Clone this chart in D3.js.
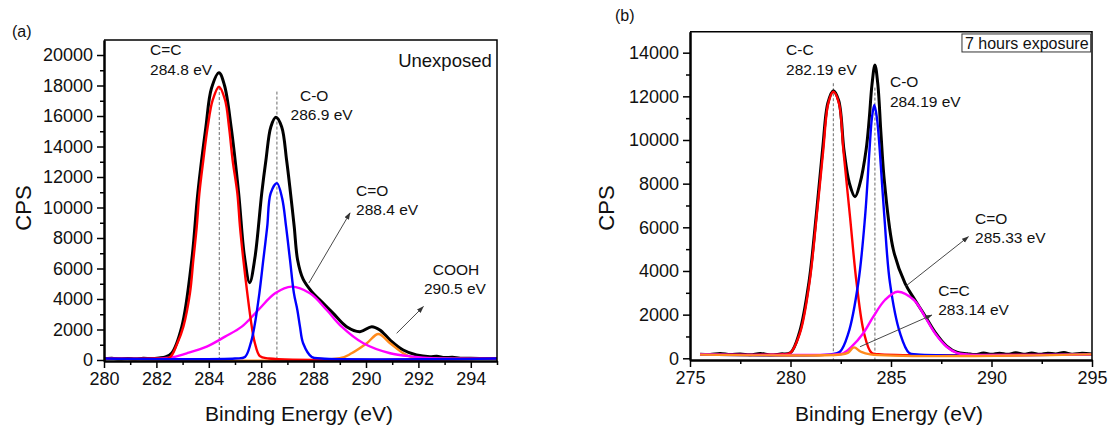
<!DOCTYPE html>
<html>
<head>
<meta charset="utf-8">
<script src="https://cdn.jsdelivr.net/npm/d3@7"></script>
<style>
  body { margin: 0; background: #fff; }
  svg { font-family: "Liberation Sans", Arial, sans-serif; }
</style>
</head>
<body>
<div id="plot"></div>
<script>
// ---- panel (a): unexposed, [binding energy eV, CPS] ----
const unexposedEnvelope = [[280,80],[280.3,110],[280.6,60],[280.9,100],[281.2,70],[281.5,110],[281.8,90],[282.1,130],[282.35,200],[282.58,440],[282.97,2190],[283.35,6560],[283.58,10930],[283.89,15300],[284.1,17800],[284.39,18840],[284.6,18000],[284.85,15300],[285.14,10930],[285.36,6800],[285.56,5070],[285.76,6700],[286.02,10930],[286.18,13100],[286.37,15300],[286.56,15915],[286.78,15300],[286.97,13100],[287.12,10930],[287.26,8740],[287.39,6560],[287.6,5300],[287.93,4480],[288.37,3717],[288.75,3060],[289.26,2185],[289.77,1860],[290.22,2185],[290.53,1970],[290.92,1310],[291.42,655],[291.93,330],[292.44,220],[292.7,250],[293,160],[293.3,180],[293.6,120],[294,110],[294.5,100],[295,90]];
const unexposedCC = [[280,100],[282,100],[282.5,150],[282.8,1100],[283.03,2190],[283.28,4370],[283.41,6560],[283.54,8740],[283.64,10930],[283.79,13100],[283.96,15300],[284.15,17050],[284.39,17920],[284.62,17050],[284.77,15300],[284.91,13100],[285.09,10930],[285.19,8740],[285.32,6560],[285.47,4370],[285.64,2190],[285.76,1100],[285.95,250],[286.3,100],[295,100]];
const unexposedCO = [[280,100],[285,100],[285.38,200],[285.6,1100],[285.74,2190],[285.93,4370],[286.08,6560],[286.23,8740],[286.36,10930],[286.6,11600],[286.8,10600],[286.95,8740],[287.1,6560],[287.25,4370],[287.38,3280],[287.48,2190],[287.6,1100],[287.93,200],[288.3,100],[295,100]];
const unexposedCdO = [[280,100],[282.5,150],[283.16,440],[283.92,875],[284.62,1530],[285.26,2185],[285.89,3280],[286.53,4370],[287.16,4810],[287.86,4370],[288.5,3280],[289.07,2185],[289.9,1095],[290.92,440],[291.8,220],[292.5,120],[295,100]];
const unexposedCOOH = [[280,100],[289,120],[289.45,440],[290.03,1095],[290.47,1705],[290.92,1095],[291.42,440],[291.8,150],[292.3,100],[295,100]];

// ---- panel (b): 7 hours exposure ----
const exposedEnvelope = [[275.5,190],[276,170],[276.5,220],[277,170],[277.5,200],[278,160],[278.5,220],[279,150],[279.5,200],[280,260],[280.45,1200],[280.92,3500],[281.28,6550],[281.6,9600],[281.86,11700],[282.13,12260],[282.4,11800],[282.66,9540],[282.93,8020],[283.21,7400],[283.46,8020],[283.76,9540],[283.92,11000],[284.05,12500],[284.2,13440],[284.35,12500],[284.5,10300],[284.68,8020],[285.12,4960],[285.7,3435],[286.14,2750],[286.69,1950],[287.19,1200],[287.77,560],[288.27,280],[288.8,210],[289.2,170],[289.6,240],[290,180],[290.4,230],[290.8,180],[291.2,250],[291.6,190],[292,240],[292.4,180],[292.8,230],[293.2,200],[293.6,260],[294,190],[294.5,230],[295,200]];
const exposedCC = [[275.5,180],[279.5,180],[279.98,240],[280.47,1150],[280.94,3440],[281.3,6490],[281.63,9540],[281.88,11680],[282.13,12210],[282.41,11680],[282.63,9540],[282.96,6490],[283.29,3440],[283.66,1150],[284.04,240],[284.5,180],[295,180]];
const exposedCO = [[275.5,180],[282,180],[282.46,300],[282.88,1150],[283.37,3440],[283.71,6490],[283.93,9540],[284.05,11000],[284.17,11600],[284.3,11000],[284.44,9540],[284.67,6490],[284.95,3440],[285.45,1150],[285.9,250],[286.3,180],[295,180]];
const exposedCdO = [[275.5,180],[282.2,180],[282.63,230],[283.04,530],[283.62,1145],[284.12,1905],[284.7,2670],[285.32,3050],[286.14,2670],[286.69,1905],[287.19,1145],[287.77,530],[288.27,250],[288.8,180],[295,180]];
const exposedCdC = [[275.5,170],[282.5,175],[282.85,250],[283.16,500],[283.5,300],[283.96,180],[295,180]];

// ticks
const unexposedXTicks = d3.range(280, 295, 2);
const unexposedXMinor = d3.range(281, 296, 2);
const unexposedYTicks = d3.range(0, 20001, 2000);
const unexposedYMinor = d3.range(1000, 20000, 2000);
const exposedXTicks = d3.range(275, 296, 5);
const exposedXMinor = d3.range(277.5, 295, 5);
const exposedYTicks = d3.range(0, 14001, 2000);
const exposedYMinor = d3.range(1000, 14000, 2000);

// annotations (data units)
const unexposedLabels = [
  ["C=C", 281.76, 20000], ["284.8 eV", 281.76, 18690],
  ["C-O", 287.48, 16980], ["286.9 eV", 287.12, 15740],
  ["C=O", 289.62, 10750], ["288.4 eV", 289.62, 9510],
  ["COOH", 292.55, 5570], ["290.5 eV", 292.21, 4330]
];
const exposedLabels = [
  ["C-C", 279.78, 13900], ["282.19 eV", 279.78, 12980],
  ["C-O", 284.95, 12440], ["284.19 eV", 284.95, 11520],
  ["C=O", 289.18, 6150], ["285.33 eV", 289.18, 5270],
  ["C=C", 287.35, 2850], ["283.14 eV", 287.35, 1980]
];
const unexposedArrows = [[287.82, 5050, 289.39, 9640], [291.17, 1750, 292.19, 3500]];
const exposedArrows = [[285.7, 3280, 288.85, 5570], [283.46, 530, 287.03, 1980]];
const unexposedDashes = [[284.4, 17900], [286.6, 17600]];
const exposedDashes = [[282.13, 12600], [284.2, 12400]];

const colors = { env: "#000000", a: "#ff0000", b: "#0000ff", c: "#ff00ff", d: "#ff8a1c" };

const svg = d3.select("#plot").append("svg")
  .attr("width", 1110).attr("height", 430);

const defs = svg.append("defs");
defs.append("marker").attr("id", "arrow")
  .attr("viewBox", "0 0 10 10").attr("refX", 9).attr("refY", 5)
  .attr("markerWidth", 8).attr("markerHeight", 8).attr("orient", "auto")
  .append("path").attr("d", "M0,1.5 L10,5 L0,8.5 Z").attr("fill", "#333");

function drawPanel(p) {
  const x = d3.scaleLinear().domain(p.xDomain).range(p.xRange);
  const y = d3.scaleLinear().domain(p.yDomain).range(p.yRange);
  const g = svg.append("g");

  defs.append("clipPath").attr("id", p.id + "clip")
    .append("rect").attr("x", p.xRange[0]).attr("y", p.yRange[1])
    .attr("width", p.xRange[1] - p.xRange[0]).attr("height", p.yRange[0] - p.yRange[1]);

  // dashed guide lines
  g.selectAll(".dash").data(p.dashes).join("line")
    .attr("x1", d => x(d[0])).attr("x2", d => x(d[0]))
    .attr("y1", d => y(d[1])).attr("y2", p.yRange[0])
    .attr("stroke", "#444").attr("stroke-width", 0.8)
    .attr("stroke-dasharray", "3,2");

  const line = d3.line().x(d => x(d[0])).y(d => y(d[1])).curve(d3.curveCatmullRom.alpha(0.5));
  const curves = g.append("g").attr("clip-path", `url(#${p.id}clip)`);
  p.series.forEach(s => {
    curves.append("path").attr("d", line(s.data))
      .attr("fill", "none").attr("stroke", s.color)
      .attr("stroke-width", s.width).attr("stroke-linejoin", "round");
  });

  // axes
  const fmt = d3.format("d");
  g.append("g").attr("transform", `translate(0,${p.yRange[0]})`)
    .call(d3.axisBottom(x).tickValues(p.xTicks).tickFormat(fmt).tickSize(7).tickSizeOuter(0).tickPadding(4));
  g.append("g").attr("transform", `translate(0,${p.yRange[0]})`)
    .call(d3.axisBottom(x).tickValues(p.xMinor).tickFormat("").tickSize(4).tickSizeOuter(0));
  g.append("g").attr("transform", `translate(${p.xRange[0]},0)`)
    .call(d3.axisLeft(y).tickValues(p.yTicks).tickFormat(fmt).tickSize(7).tickSizeOuter(0).tickPadding(4));
  g.append("g").attr("transform", `translate(${p.xRange[0]},0)`)
    .call(d3.axisLeft(y).tickValues(p.yMinor).tickFormat("").tickSize(4).tickSizeOuter(0));
  g.selectAll(".domain").attr("stroke", "#000").attr("stroke-width", 2);
  g.selectAll(".tick line").attr("stroke", "#000").attr("stroke-width", 1.5);
  g.selectAll(".tick text").attr("font-size", 18).attr("fill", "#111")
    .attr("font-family", '"Liberation Sans", Arial, sans-serif');

  // top and right frame
  g.append("path")
    .attr("d", `M${p.xRange[0]},${p.yRange[1]}H${p.xRange[1]}V${p.yRange[0]}`)
    .attr("fill", "none").attr("stroke", "#000").attr("stroke-width", 1.5);

  // arrows
  g.selectAll(".arr").data(p.arrows).join("line")
    .attr("x1", d => x(d[0])).attr("y1", d => y(d[1]))
    .attr("x2", d => x(d[2])).attr("y2", d => y(d[3]))
    .attr("stroke", "#333").attr("stroke-width", 0.9)
    .attr("marker-end", "url(#arrow)");

  // peak labels
  g.selectAll(".lbl").data(p.labels).join("text")
    .attr("x", d => x(d[1])).attr("y", d => y(d[2]))
    .attr("font-size", 15.5).attr("fill", "#111").text(d => d[0]);

  // axis titles
  g.append("text").attr("x", p.xTitleX).attr("y", 421)
    .attr("text-anchor", "middle").attr("font-size", 21).attr("fill", "#111")
    .text("Binding Energy (eV)");
  g.append("text").attr("transform", `translate(${p.yTitleX},208) rotate(-90)`)
    .attr("text-anchor", "middle").attr("font-size", 22).attr("fill", "#111")
    .text("CPS");
  g.append("text").attr("x", p.tagX).attr("y", p.tagY)
    .attr("font-size", 16).attr("fill", "#111").text(p.tag);
  return { g, x, y };
}

const a = drawPanel({
  id: "a", tag: "(a)", tagX: 12, tagY: 37,
  xDomain: [280, 295], xRange: [104, 497],
  yDomain: [-66, 20984], yRange: [361, 40],
  xTicks: unexposedXTicks, xMinor: unexposedXMinor,
  yTicks: unexposedYTicks, yMinor: unexposedYMinor,
  xTitleX: 299, yTitleX: 31,
  dashes: unexposedDashes, arrows: unexposedArrows, labels: unexposedLabels,
  series: [
    { data: unexposedEnvelope, color: colors.env, width: 3 },
    { data: unexposedCOOH, color: colors.d, width: 2.4 },
    { data: unexposedCdO, color: colors.c, width: 2.4 },
    { data: unexposedCC, color: colors.a, width: 2.4 },
    { data: unexposedCO, color: colors.b, width: 2.4 }
  ]
});
a.g.append("text").attr("x", a.x(294.8)).attr("y", a.y(19230))
  .attr("text-anchor", "end").attr("font-size", 18.5).attr("fill", "#111")
  .text("Unexposed");

const b = drawPanel({
  id: "b", tag: "(b)", tagX: 615, tagY: 21,
  xDomain: [275, 295], xRange: [690, 1092],
  yDomain: [-78, 14961], yRange: [360, 31.7],
  xTicks: exposedXTicks, xMinor: exposedXMinor,
  yTicks: exposedYTicks, yMinor: exposedYMinor,
  xTitleX: 889, yTitleX: 614,
  dashes: exposedDashes, arrows: exposedArrows, labels: exposedLabels,
  series: [
    { data: exposedEnvelope, color: colors.env, width: 3 },
    { data: exposedCC, color: colors.a, width: 2.4 },
    { data: exposedCO, color: colors.b, width: 2.4 },
    { data: exposedCdO, color: colors.c, width: 2.4 },
    { data: exposedCdC, color: colors.d, width: 2.4 }
  ]
});
const boxG = b.g.append("g");
const boxRect = boxG.append("rect");
const boxText = boxG.append("text").attr("x", b.x(288.68)).attr("y", b.y(14170))
  .attr("font-size", 16).attr("fill", "#111").text("7 hours exposure");
const bb = boxText.node().getBBox();
boxRect.attr("x", bb.x - 3).attr("y", bb.y - 1)
  .attr("width", bb.width + 5).attr("height", bb.height + 1)
  .attr("fill", "#fff").attr("stroke", "#333").attr("stroke-width", 1);
</script>
</body>
</html>
